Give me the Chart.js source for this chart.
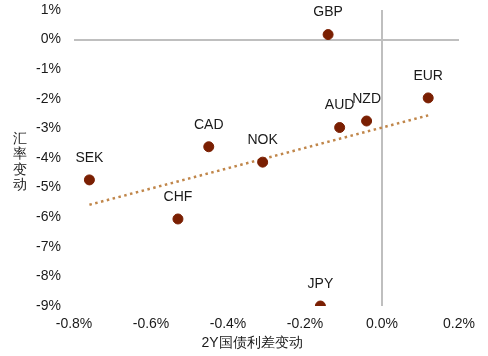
<!DOCTYPE html>
<html><head><meta charset="utf-8">
<script src="https://cdn.jsdelivr.net/npm/chart.js@4"></script>
<style>html,body{margin:0;padding:0;background:#fff}#wrap{width:488px;height:356px}</style>
</head><body><div id="wrap"><canvas id="c" width="488" height="356"></canvas></div>
<script>
const currencies = ['GBP','EUR','NZD','AUD','CAD','NOK','SEK','CHF','JPY'];
const spreadChange = [-0.14, 0.12, -0.04, -0.11, -0.45, -0.31, -0.76, -0.53, -0.16];
const fxChange = [0.17, -1.97, -2.75, -2.97, -3.62, -4.14, -4.74, -6.06, -9.0];
const trendX = [-0.76, 0.12];
const trendY = [-5.58, -2.56];
const xTitle = '2Y国债利差变动';
const yTitle = '汇率变动';

const FONT = 'Liberation Sans, Arial, sans-serif';
const points = currencies.map((c,i)=>({x:spreadChange[i], y:fxChange[i], label:c}));
const trend = trendX.map((x,i)=>({x:x, y:trendY[i]}));

const labelPlugin = {
  id:'labels',
  afterDatasetsDraw(chart){
    const ctx = chart.ctx, xs = chart.scales.x, ys = chart.scales.y;
    ctx.save();
    ctx.font = '14px ' + FONT;
    ctx.fillStyle = '#1a1a1a';
    ctx.textAlign = 'center';
    ctx.textBaseline = 'middle';
    points.forEach(p=>{
      ctx.fillText(p.label, xs.getPixelForValue(p.x), ys.getPixelForValue(p.y) - 22);
    });
    const chars = [...yTitle];
    chars.forEach((ch,i)=>{ ctx.fillText(ch, 20, 139 + i*15.5); });
    ctx.fillText(xTitle, 252, 343);
    ctx.restore();
  }
};

const zeroGrid = (c)=> Math.abs(c.tick.value) < 1e-9 ? '#bfbfbf' : 'rgba(0,0,0,0)';

new Chart(document.getElementById('c'), {
  type:'scatter',
  data:{datasets:[
    {data:points, backgroundColor:'#7a1f02', borderColor:'#7a1f02', pointRadius:5, pointHoverRadius:5, order:1},
    {type:'line', data:trend, borderColor:'#c0864a', borderWidth:2.5, borderDash:[2.5,3.5], pointRadius:0, fill:false, order:2}
  ]},
  options:{
    responsive:false, animation:false, devicePixelRatio:1,
    layout:{padding:{top:10,right:29,left:0,bottom:0}},
    plugins:{legend:{display:false}, tooltip:{enabled:false}},
    scales:{
      x:{type:'linear', min:-0.8, max:0.2,
        afterFit(s){ s.height = 50; },
        afterBuildTicks(s){ s.ticks = [-0.8,-0.6,-0.4,-0.2,0,0.2].map(v=>({value:v})); },
        border:{display:false},
        grid:{color:zeroGrid, lineWidth:2, drawTicks:false},
        ticks:{padding:10, color:'#1a1a1a', font:{family:FONT,size:14},
          callback:(v)=> (Math.abs(v)<1e-9?0:v).toFixed(1)+'%'}
      },
      y:{type:'linear', min:-9, max:1,
        afterFit(s){ s.width = 74; s.paddingTop = 0; s.paddingBottom = 0; },
        afterBuildTicks(s){ s.ticks = [1,0,-1,-2,-3,-4,-5,-6,-7,-8,-9].map(v=>({value:v})); },
        border:{display:false},
        grid:{color:zeroGrid, lineWidth:2, drawTicks:false},
        ticks:{padding:13, color:'#1a1a1a', font:{family:FONT,size:14},
          callback:(v)=> Math.round(v)+'%'}
      }
    }
  },
  plugins:[labelPlugin]
});
</script></body></html>
